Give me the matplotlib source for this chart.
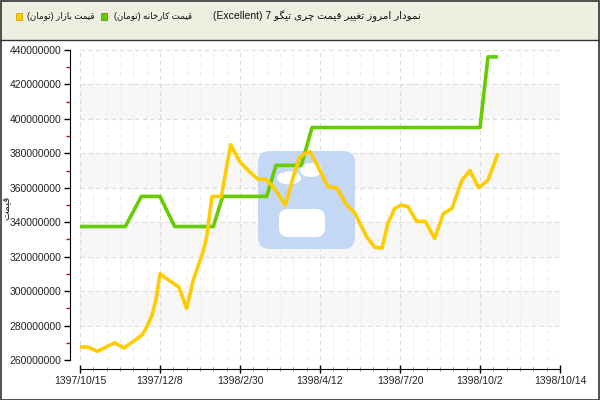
import matplotlib
matplotlib.use("Agg")
import matplotlib.pyplot as plt
from matplotlib.patches import Rectangle, FancyBboxPatch, Ellipse
from matplotlib.ticker import MultipleLocator, FuncFormatter

YELLOW = "#ffcc00"
GREEN = "#66cc00"
HEADER_BG = "#efefe1"
BORDER = "#333333"
BAND = "#f7f7f7"
GRID = "#dddddd"

# x positions are in tick units (6 minor steps between labelled ticks)
xtick_labels = ["1397/10/15", "1397/12/8", "1398/2/30", "1398/4/12",
                "1398/7/20", "1398/10/2", "1398/10/14"]

market_x = [0.0, 0.6, 1.3, 2.6, 3.3, 4.65, 5.0, 5.4, 5.7, 6.0, 6.9, 7.4, 8.0,
            8.5, 9.2, 9.5, 9.9, 10.6, 11.3, 12.0, 12.75, 13.35, 13.9, 14.5,
            15.4, 16.0, 16.5, 16.9, 17.25, 18.0, 18.6, 19.25, 20.0, 20.6, 21.5,
            22.1, 22.65, 23.1, 23.6, 24.1, 24.6, 25.25, 25.9, 26.6, 27.25,
            27.9, 28.65, 29.25, 29.9, 30.6, 31.35]
market_price = [267.5, 267.5, 265, 270, 267, 274.5, 279, 286, 295, 310, 305,
                302.5, 290, 306.5, 322, 331.5, 355, 355, 385, 375, 369, 365,
                365, 360.5, 350, 366.5, 378, 380, 381, 370, 360.5, 360, 350,
                345.5, 331.5, 325.5, 325, 339.5, 348, 350, 349, 340.5, 340.5,
                330.5, 345, 348, 364.5, 370, 360, 364.5, 380]

factory_x = [0, 3.4, 4.6, 6.0, 7.1, 10.0, 10.7, 14.0, 14.7, 16.6, 17.4, 30.0,
             30.6, 31.35]
factory_price = [337.5, 337.5, 355, 355, 337.5, 337.5, 355, 355, 373, 373,
                 395, 395, 436, 436]

market_price = [v * 1e6 for v in market_price]
factory_price = [v * 1e6 for v in factory_price]

# --- tiny Persian shaper (matplotlib has no complex text layout) ---
FORMS = {
    "ا": ("\uFE8D", "\uFE8E", None, None),
    "ب": ("\uFE8F", "\uFE90", "\uFE91", "\uFE92"),
    "ت": ("\uFE95", "\uFE96", "\uFE97", "\uFE98"),
    "خ": ("\uFEA5", "\uFEA6", "\uFEA7", "\uFEA8"),
    "د": ("\uFEA9", "\uFEAA", None, None),
    "ر": ("\uFEAD", "\uFEAE", None, None),
    "ز": ("\uFEAF", "\uFEB0", None, None),
    "غ": ("\uFECD", "\uFECE", "\uFECF", "\uFED0"),
    "ق": ("\uFED5", "\uFED6", "\uFED7", "\uFED8"),
    "م": ("\uFEE1", "\uFEE2", "\uFEE3", "\uFEE4"),
    "ن": ("\uFEE5", "\uFEE6", "\uFEE7", "\uFEE8"),
    "ه": ("\uFEE9", "\uFEEA", "\uFEEB", "\uFEEC"),
    "و": ("\uFEED", "\uFEEE", None, None),
    "چ": ("\uFB7A", "\uFB7B", "\uFB7C", "\uFB7D"),
    "گ": ("\uFB92", "\uFB93", "\uFB94", "\uFB95"),
    "ک": ("\uFB8E", "\uFB8F", "\uFB90", "\uFB91"),
    "ی": ("\uFBFC", "\uFBFD", "\uFBFE", "\uFBFF"),
}
RIGHT_ONLY = set("ادرزو")


def rtl(text):
    out = []
    for i, ch in enumerate(text):
        f = FORMS.get(ch)
        if f is None:
            out.append(ch)
            continue
        prev = text[i - 1] if i > 0 else ""
        nxt = text[i + 1] if i < len(text) - 1 else ""
        jp = prev in FORMS and prev not in RIGHT_ONLY
        jn = nxt in FORMS and ch not in RIGHT_ONLY
        if jp and jn:
            out.append(f[3])
        elif jp:
            out.append(f[1])
        elif jn:
            out.append(f[2])
        else:
            out.append(f[0])
    s = "".join(out)[::-1]
    return s.translate(str.maketrans("()", ")("))


plt.rcParams["font.family"] = ["Liberation Sans", "DejaVu Sans"]

W, H = 600, 400
fig = plt.figure(figsize=(6, 4), dpi=100, facecolor="white")


def px(x, y):
    return x / W, 1 - y / H


# header
fig.patches.append(Rectangle((0, 1 - 40 / H), 1, 40 / H, transform=fig.transFigure,
                             facecolor=HEADER_BG, edgecolor="none", zorder=0))
fig.lines.append(plt.Line2D([0, 1], [1 - 40 / H] * 2, transform=fig.transFigure,
                            color=BORDER, lw=1))
fig.patches.append(Rectangle((0.001, 0.001), 0.998, 0.997, transform=fig.transFigure,
                             facecolor="none", edgecolor=BORDER, lw=1.2, zorder=10))

fig.text(*px(421, 16.5), "(Excellent) 7 " + rtl("نمودار امروز تغییر قیمت چری تیگو"),
         ha="right", va="center", fontsize=7.5, color="#111111")
fig.text(*px(192, 16.5), rtl("قیمت کارخانه (تومان)"), ha="right", va="center",
         fontsize=6.3, color="#111111")
fig.text(*px(95, 16.5), rtl("قیمت بازار (تومان)"), ha="right", va="center",
         fontsize=6.3, color="#111111")
for x0, c, ec in [(101, GREEN, "#4f9e00"), (16, YELLOW, "#d9a800")]:
    fig.patches.append(Rectangle(px(x0, 19.5), 6 / W, 6 / H, transform=fig.transFigure,
                                 facecolor=c, edgecolor=ec, lw=0.6))

# watermark logo (pixel coords, y measured from the bottom)
ax_logo = fig.add_axes([0, 0, 1, 1])
ax_logo.set_xlim(0, W)
ax_logo.set_ylim(0, H)
ax_logo.axis("off")
ax_logo.add_patch(FancyBboxPatch((263, H - 244), 87, 88,
                                 boxstyle="round,pad=5,rounding_size=12",
                                 facecolor="#c4d8f5", edgecolor="none", zorder=2))
ax_logo.add_patch(Ellipse((289, H - 178), 24, 13, facecolor="white", edgecolor="none", zorder=3))
ax_logo.add_patch(Ellipse((311, H - 170), 22, 14, facecolor="white", edgecolor="none", zorder=3))
ax_logo.add_patch(FancyBboxPatch((281, H - 235), 42, 24,
                                 boxstyle="round,pad=2,rounding_size=9",
                                 facecolor="white", edgecolor="none", zorder=3))

# background bands + grid on a lower axes
bg = fig.add_axes([80 / W, 40 / H, 480 / W, 310 / H], zorder=-1)
# main axes
ax = fig.add_axes([80 / W, 40 / H, 480 / W, 310 / H], zorder=1)
for a in (bg, ax):
    a.set_xlim(0, 36)
    a.set_ylim(260e6, 440e6)
    a.xaxis.set_major_locator(MultipleLocator(6))
    a.xaxis.set_minor_locator(MultipleLocator(1))
    a.yaxis.set_major_locator(MultipleLocator(20e6))
    a.yaxis.set_minor_locator(MultipleLocator(10e6))

for lo in [280e6, 320e6, 360e6, 400e6]:
    bg.axhspan(lo, lo + 20e6, color=BAND, zorder=0, lw=0)
bg.grid(which="major", color=GRID, ls=(0, (4, 3)), lw=0.8)
bg.grid(which="minor", axis="x", color="#eeeeee", ls=(0, (4, 4)), lw=0.8)
bg.tick_params(which="both", length=0, labelbottom=False, labelleft=False)
for s in bg.spines.values():
    s.set_visible(False)
ax_logo.set_zorder(0)
ax.patch.set_visible(False)

ax.xaxis.set_major_formatter(FuncFormatter(
    lambda v, p: xtick_labels[int(round(v / 6))] if 0 <= round(v / 6) < len(xtick_labels) else ""))
ax.yaxis.set_major_formatter(FuncFormatter(lambda v, p: f"{v:.0f}"))

for s in ["top", "right"]:
    ax.spines[s].set_visible(False)
ax.spines["left"].set_position(("outward", 7.5))
ax.spines["bottom"].set_position(("outward", 6.5))
ax.spines["left"].set_bounds(260e6, 440e6)
ax.spines["bottom"].set_bounds(0, 36)
ax.tick_params(axis="y", which="major", length=4, width=1, color="black",
               labelsize=7.5, pad=2, labelcolor="#222222")
ax.tick_params(axis="y", which="minor", length=3, width=1, color="#dd0000")
ax.tick_params(axis="x", which="major", direction="inout", length=6, width=1,
               labelsize=7.5, pad=2, labelcolor="#222222")
ax.tick_params(axis="x", which="minor", direction="inout", length=3, width=0.6,
               color="#666666")

ax.plot(factory_x, factory_price, color=GREEN, lw=2.6, solid_joinstyle="round",
        solid_capstyle="butt", zorder=3)
ax.plot(market_x, market_price, color=YELLOW, lw=2.6, solid_joinstyle="round",
        solid_capstyle="butt", zorder=4)

fig.text(*px(6, 208), rtl("قیمت"), rotation=90, ha="center", va="center",
         fontsize=7.5, color="#222222")

fig.savefig("out.png", dpi=100, facecolor="white")
